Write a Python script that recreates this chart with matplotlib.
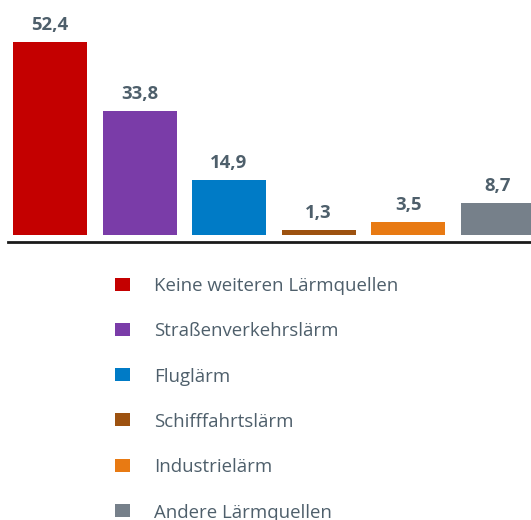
import matplotlib
matplotlib.use("Agg")
import matplotlib.pyplot as plt
from matplotlib.patches import Rectangle
from matplotlib.lines import Line2D

categories = ["Keine weiteren Lärmquellen", "Straßenverkehrslärm", "Fluglärm",
              "Schifffahrtslärm", "Industrielärm", "Andere Lärmquellen"]
values = [52.4, 33.8, 14.9, 1.3, 3.5, 8.7]
value_labels = ["52,4", "33,8", "14,9", "1,3", "3,5", "8,7"]
colors = ["#C40000", "#7A3CA8", "#007BC6", "#9D5210", "#E87A13", "#76808A"]

W, H = 531, 520
DPI = 100
text_color = "#4E5F6B"
font = "Open Sans"

fig = plt.figure(figsize=(W / DPI, H / DPI), dpi=DPI)
fig.patch.set_facecolor("white")

# axes: spans x 0..531 px, y from 250 px (top-down) to 0
ax_bottom_px = 250
ax = fig.add_axes([0, 1 - ax_bottom_px / H, 1, ax_bottom_px / H])
px_per_unit = 3.68
ax.set_ylim(-15 / px_per_unit, 235 / px_per_unit)
spacing = 89.5
x0 = 50
ax.set_xlim(-x0 / spacing, (W - x0) / spacing)
ax.axis("off")

xs = list(range(len(values)))
ax.bar(xs, values, width=74 / spacing, color=colors, edgecolor="none", zorder=2)

for x, v, lab in zip(xs, values, value_labels):
    ax.annotate(lab, (x, v), xytext=(0, 8.7), textcoords="offset points",
                ha="center", va="baseline", fontsize=13.3, fontweight="bold",
                color=text_color, family=font)

# baseline
fig.add_artist(Line2D([8 / W, 1], [1 - 242 / H, 1 - 242 / H], color="#1a1a1a",
                      linewidth=2.0, transform=fig.transFigure))

# legend
row_y0 = 284
row_dy = 45.3
for i, (cat, col) in enumerate(zip(categories, colors)):
    yc = row_y0 + i * row_dy
    fig.add_artist(Rectangle((115 / W, 1 - (yc + 6.5) / H), 15 / W, 13 / H,
                             facecolor=col, edgecolor="none",
                             transform=fig.transFigure))
    fig.text(154 / W, 1 - yc / H, cat, ha="left", va="center_baseline",
             fontsize=13.4, color=text_color, family=font)

fig.savefig("out.png", dpi=DPI, facecolor="white")
